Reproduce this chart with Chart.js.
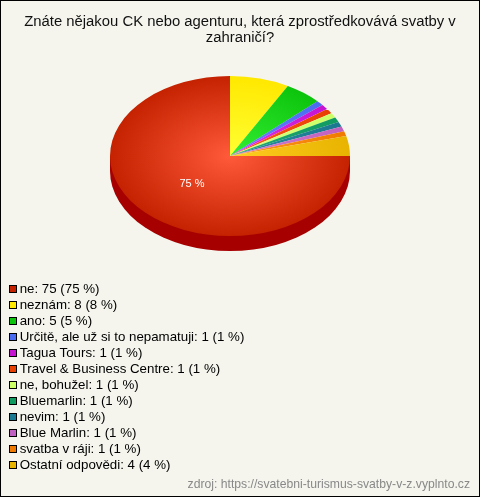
<!DOCTYPE html>
<html><head><meta charset="utf-8">
<style>
html,body{margin:0;padding:0;background:#f5f5ee}
#w{width:480px;height:497px}
canvas{display:block;outline:1px solid #000;outline-offset:-1px}
</style>
<script src="https://cdn.jsdelivr.net/npm/chart.js@4/dist/chart.umd.js"></script>
</head><body><div id="w"><canvas id="c" width="480" height="497"></canvas></div>
<script>
const titleLines = ["Znáte nějakou CK nebo agenturu, která zprostředkovává svatby v", "zahraničí?"];
const sourceText = "zdroj: https://svatebni-turismus-svatby-v-z.vyplnto.cz";
const legendOrder = ["ne","neznám","ano","Určitě, ale už si to nepamatuji","Tagua Tours","Travel & Business Centre","ne, bohužel","Bluemarlin","nevim","Blue Marlin","svatba v ráji","Ostatní odpovědi"];
const legendValues = [75,8,5,1,1,1,1,1,1,1,1,4];
const swatchColors = ["#c42200","#ffe800","#0cc40c","#4a6cf0","#c414d0","#e84000","#ccff66","#109b60","#1a7890","#c060c0","#f07a00","#e8b400"];
const innerColors = ["#ff5a3a","#ffff33","#33ee33","#6a80ff","#e030f0","#ff5a20","#d8ff80","#20a870","#2a88a0","#d080d0","#ff9a20","#ffcc22"];
const pieLabelText = "75 %";
const sideColor = "#a60000";
const FONT = "'Liberation Sans', Arial, sans-serif";
const ELLIPSE = 2/3, DEPTH = 15, CX = 230, CY = 156;
const LEGEND_X = 9, LEGEND_TOP = 282.35, LEGEND_PAD = 2.7;

function swatch(color){
  const s = document.createElement('canvas');
  s.width = 12; s.height = 8;
  const g = s.getContext('2d');
  g.fillStyle = "#000"; g.fillRect(4,0,8,8);
  g.fillStyle = color; g.fillRect(5,1,6,6);
  return s;
}

const pie3d = {
  id:'pie3d',
  afterLayout(chart){
    const l = chart.legend;
    l.left = LEGEND_X - LEGEND_PAD;
    l.top = LEGEND_TOP - LEGEND_PAD;
    l.bottom = l.top + l.height + 200;
  },
  beforeDatasetsDraw(chart){
    const arc = chart.getDatasetMeta(0).data[0], c = chart.ctx;
    const r = arc.outerRadius;
    c.save();
    c.fillStyle = sideColor;
    c.beginPath();
    c.ellipse(CX, CY + DEPTH, r, r*ELLIPSE, 0, 0, Math.PI);
    c.lineTo(CX - r, CY);
    c.lineTo(CX + r, CY);
    c.closePath();
    c.fill();
    c.translate(CX - arc.x, CY);
    c.scale(1, ELLIPSE);
    c.translate(0, -arc.y);
  },
  afterDatasetsDraw(chart){
    const c = chart.ctx;
    c.restore();
    const arc = chart.getDatasetMeta(0).data[0];
    const mid = (arc.startAngle + arc.endAngle)/2, k = arc.outerRadius*0.46;
    c.save();
    c.font = "11px " + FONT;
    c.fillStyle = "#fff";
    c.textAlign = "center";
    c.textBaseline = "middle";
    c.fillText(pieLabelText, CX + 1 + Math.cos(mid)*k, CY + 2 + Math.sin(mid)*k*ELLIPSE);
    c.restore();
  }
};

new Chart(document.getElementById('c'), {
  type:'pie',
  plugins:[pie3d],
  data:{
    labels: legendOrder,
    datasets:[{
      data: legendValues,
      borderWidth:0,
      backgroundColor(ctx){
        const ca = ctx.chart.chartArea;
        if(!ca) return swatchColors[ctx.dataIndex];
        const x=(ca.left+ca.right)/2, y=(ca.top+ca.bottom)/2;
        const g = ctx.chart.ctx.createRadialGradient(x,y,0,x,y,120);
        g.addColorStop(0, innerColors[ctx.dataIndex]);
        g.addColorStop(1, swatchColors[ctx.dataIndex]);
        return g;
      }
    }]
  },
  options:{
    responsive:false,
    animation:false,
    rotation:90,
    radius:120,
    layout:{padding:{left:10,right:10,top:0,bottom:0}},
    plugins:{
      tooltip:{enabled:false},
      title:{display:true,text:titleLines,color:"#111",font:{family:FONT,size:14.85,weight:'normal',lineHeight:1.08},padding:{top:14,bottom:0}},
      subtitle:{display:true,position:'bottom',align:'end',text:sourceText,color:"#888",font:{family:FONT,size:12.2,weight:'normal'},padding:{top:0,bottom:5}},
      legend:{
        display:true,position:'chartArea',align:'start',
        labels:{
          color:"#111",font:{family:FONT,size:13.3},boxWidth:4,boxHeight:9,padding:LEGEND_PAD,usePointStyle:true,
          generateLabels(chart){
            return legendOrder.map((n,i)=>({text:n+": "+legendValues[i]+" ("+legendValues[i]+" %)",pointStyle:swatch(swatchColors[i]),fillStyle:swatchColors[i],strokeStyle:"#000",lineWidth:1,index:i,hidden:false}));
          }
        }
      }
    }
  },
});
</script></body></html>
